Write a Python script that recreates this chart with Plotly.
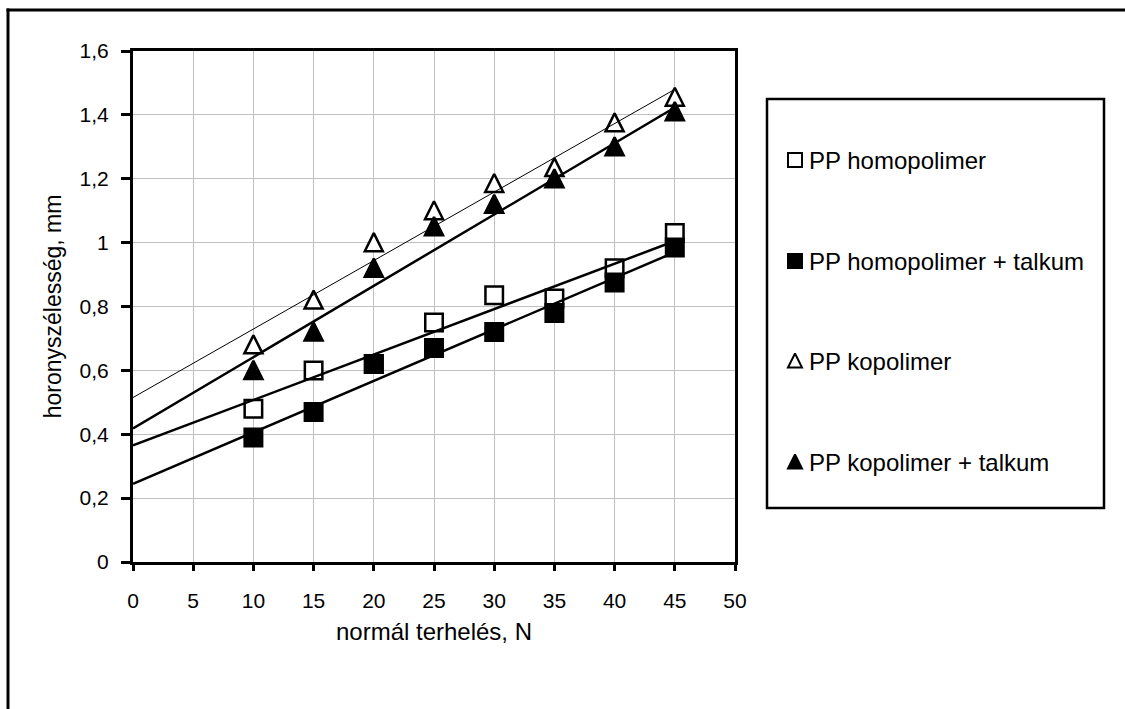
import plotly.graph_objects as go

# ---------------- data ----------------
load_N = [10, 15, 20, 25, 30, 35, 40, 45]
pp_homo = [0.48, 0.60, 0.62, 0.75, 0.835, 0.825, 0.92, 1.03]
pp_homo_talk = [0.39, 0.47, 0.62, 0.67, 0.72, 0.78, 0.875, 0.985]
pp_kopo = [0.68, 0.82, 1.00, 1.10, 1.185, 1.235, 1.375, 1.455]
pp_kopo_talk = [0.60, 0.72, 0.92, 1.05, 1.12, 1.20, 1.30, 1.41]

# trendline values at x = 0 and x = 45
trend_x = [0, 45]
trend_homo = [0.365, 1.005]
trend_homo_talk = [0.245, 0.97]
trend_kopo = [0.515, 1.48]
trend_kopo_talk = [0.418, 1.423]

series_names = ["PP homopolimer", "PP homopolimer + talkum",
                "PP kopolimer", "PP kopolimer + talkum"]
x_title = "normál terhelés, N"
y_title = "horonyszélesség, mm"

# ---------------- geometry ----------------
W, H = 1125, 709
PL, PR, PT, PB = 133, 735, 51, 562      # plot area in pixels
X_RANGE = [0, 50]
Y_RANGE = [0, 1.6]
px_per_unit = (PB - PT) / (Y_RANGE[1] - Y_RANGE[0])
SQ = 17.5
TRI = 18
LW = 2.5
# arrow-up markers have their tip at the point; shift their axis so the glyph is centred
tri_shift = (TRI / 2 + 0.5) / px_per_unit

FONT = "Liberation Sans, Arial, sans-serif"


def px_x(p):
    return p / W


def px_y(p):
    return 1 - p / H


fig = go.Figure()

# squares
fig.add_trace(go.Scatter(x=load_N, y=pp_homo, mode="markers", name=series_names[0],
                         marker=dict(symbol="square", size=SQ, color="white",
                                     line=dict(color="black", width=LW)),
                         xaxis="x", yaxis="y", showlegend=False))
fig.add_trace(go.Scatter(x=load_N, y=pp_homo_talk, mode="markers", name=series_names[1],
                         marker=dict(symbol="square", size=SQ, color="black",
                                     line=dict(color="black", width=LW)),
                         xaxis="x", yaxis="y", showlegend=False))
# triangles (on the shifted overlay axis)
fig.add_trace(go.Scatter(x=load_N, y=pp_kopo, mode="markers", name=series_names[2],
                         marker=dict(symbol="arrow-up", size=TRI, color="white",
                                     line=dict(color="black", width=LW)),
                         xaxis="x", yaxis="y2", showlegend=False))
fig.add_trace(go.Scatter(x=load_N, y=pp_kopo_talk, mode="markers", name=series_names[3],
                         marker=dict(symbol="arrow-up", size=TRI, color="black",
                                     line=dict(color="black", width=LW)),
                         xaxis="x", yaxis="y2", showlegend=False))

# trendlines (on top)
for ys, w in [(trend_homo, 2.5), (trend_homo_talk, 2.5), (trend_kopo, 1), (trend_kopo_talk, 2.5)]:
    fig.add_trace(go.Scatter(x=trend_x, y=ys, mode="lines",
                             line=dict(color="black", width=w),
                             xaxis="x", yaxis="y3", showlegend=False, hoverinfo="skip"))

# ---------------- manual legend (pixel axes) ----------------
LEG_X0, LEG_X1, LEG_Y0, LEG_Y1 = 767, 1104, 99, 508
leg_rows = [160, 261, 361, 462]
sym_x = 795
leg_size = 14
leg_specs = [("square", "white"), ("square", "black"), ("arrow-up", "white"), ("arrow-up", "black")]
for (sym, col), yc in zip(leg_specs, leg_rows):
    yy = yc - (leg_size / 2 + 0.5) if sym == "arrow-up" else yc
    fig.add_trace(go.Scatter(x=[sym_x], y=[yy], mode="markers",
                             marker=dict(symbol=sym, size=leg_size, color=col,
                                         line=dict(color="black", width=2)),
                             xaxis="x4", yaxis="y4", showlegend=False, hoverinfo="skip"))

annotations = []
for name, yc in zip(series_names, leg_rows):
    annotations.append(dict(x=px_x(807), y=px_y(yc), xref="paper", yref="paper", text=name,
                            showarrow=False, xanchor="left", yanchor="middle",
                            font=dict(family=FONT, size=24, color="black")))

shapes = [
    # outer chart border: only top and left edges are inside the picture
    dict(type="line", xref="paper", yref="paper", x0=px_x(6.5), x1=px_x(1125),
         y0=px_y(10), y1=px_y(10), line=dict(color="black", width=3), layer="above"),
    dict(type="line", xref="paper", yref="paper", x0=px_x(8), x1=px_x(8),
         y0=px_y(8.5), y1=px_y(709), line=dict(color="black", width=3), layer="above"),
    # legend box
    dict(type="rect", xref="paper", yref="paper", x0=px_x(LEG_X0), x1=px_x(LEG_X1),
         y0=px_y(LEG_Y0), y1=px_y(LEG_Y1),
         line=dict(color="black", width=2.5), fillcolor="rgba(0,0,0,0)", layer="above"),
]

x_dom = [PL / W, PR / W]
y_dom = [(H - PB) / H, (H - PT) / H]

axis_common = dict(showline=True, linecolor="black", linewidth=3, mirror=True,
                   ticks="outside", tickcolor="black", tickwidth=2.5,
                   showgrid=True, gridcolor="#c0c0c0", gridwidth=1, zeroline=False,
                   tickfont=dict(family=FONT, size=21, color="black"))

fig.update_layout(
    width=W, height=H,
    margin=dict(l=0, r=0, t=0, b=0, pad=0, autoexpand=False),
    paper_bgcolor="white", plot_bgcolor="rgba(0,0,0,0)",
    separators=", ",
    showlegend=False,
    font=dict(family=FONT, color="black"),
    xaxis=dict(domain=x_dom, range=X_RANGE, dtick=5, tick0=0, ticklen=6,
               ticklabelstandoff=12, anchor="y",
               title=dict(text=x_title, standoff=12, font=dict(family=FONT, size=24)),
               **axis_common),
    yaxis=dict(domain=y_dom, range=Y_RANGE, dtick=0.2, tick0=0, ticklen=9,
               ticklabelstandoff=8, anchor="x",
               title=dict(text=y_title, standoff=12, font=dict(family=FONT, size=23)),
               **axis_common),
    yaxis2=dict(overlaying="y", anchor="x", range=[Y_RANGE[0] - tri_shift, Y_RANGE[1] - tri_shift],
                visible=False, showgrid=False, zeroline=False),
    yaxis3=dict(overlaying="y", anchor="x", range=Y_RANGE, visible=False, showgrid=False,
                zeroline=False),
    xaxis4=dict(domain=[0, 1], range=[0, W], visible=False, showgrid=False, zeroline=False,
                anchor="y4"),
    yaxis4=dict(domain=[0, 1], range=[H, 0], visible=False, showgrid=False, zeroline=False,
                anchor="x4"),
    annotations=annotations,
    shapes=shapes,
)

fig.write_html("out.html")
